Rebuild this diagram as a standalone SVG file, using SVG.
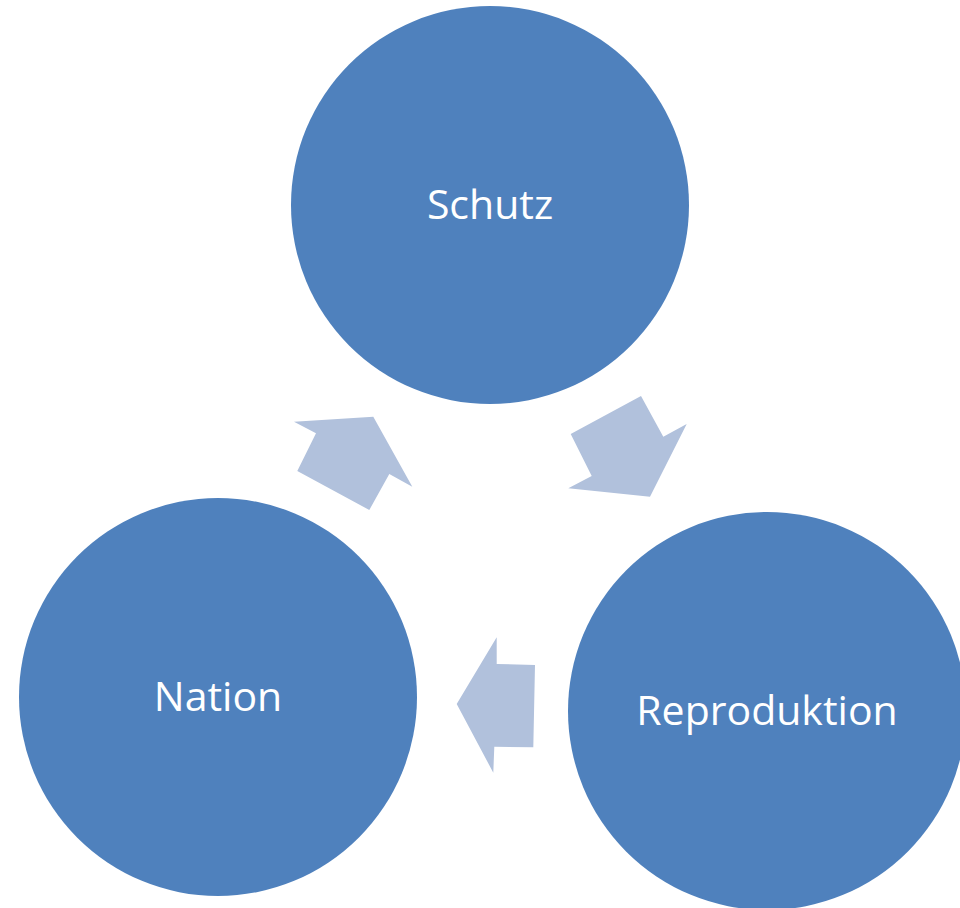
<svg xmlns="http://www.w3.org/2000/svg" width="960" height="908" viewBox="0 0 960 908">
<style>
.node{fill:#4F81BD}
.lbl{fill:#FFFFFF;font-family:"Open Sans","Noto Sans","Liberation Sans",sans-serif;font-size:41px;text-anchor:middle;dominant-baseline:central}
.arr{fill:#B1C1DC}
</style>
<rect width="960" height="908" fill="#FFFFFF"/>
<g id="connectors">
<polygon class="arr" points="373.3,416.7 412.3,486.7 389.3,474 369.3,510 297.3,471 316,433.3 294,421.7"/>
<polygon class="arr" points="641,396 663.3,436.7 686.7,424 650,496.7 568.3,488.3 591.7,476 570.7,434"/>
<polygon class="arr" points="496.7,637.3 496.7,664 535,665 533.3,747.3 494.3,746.7 493.3,772.7 456.7,704"/>
</g>
<g id="schutz">
<circle class="node" cx="490" cy="205" r="199"/>
<text class="lbl" x="490" y="203">Schutz</text>
</g>
<g id="nation">
<circle class="node" cx="218" cy="697" r="199"/>
<text class="lbl" x="218" y="695">Nation</text>
</g>
<g id="reproduktion">
<circle class="node" cx="767" cy="711" r="199"/>
<text class="lbl" x="767" y="709">Reproduktion</text>
</g>
</svg>
